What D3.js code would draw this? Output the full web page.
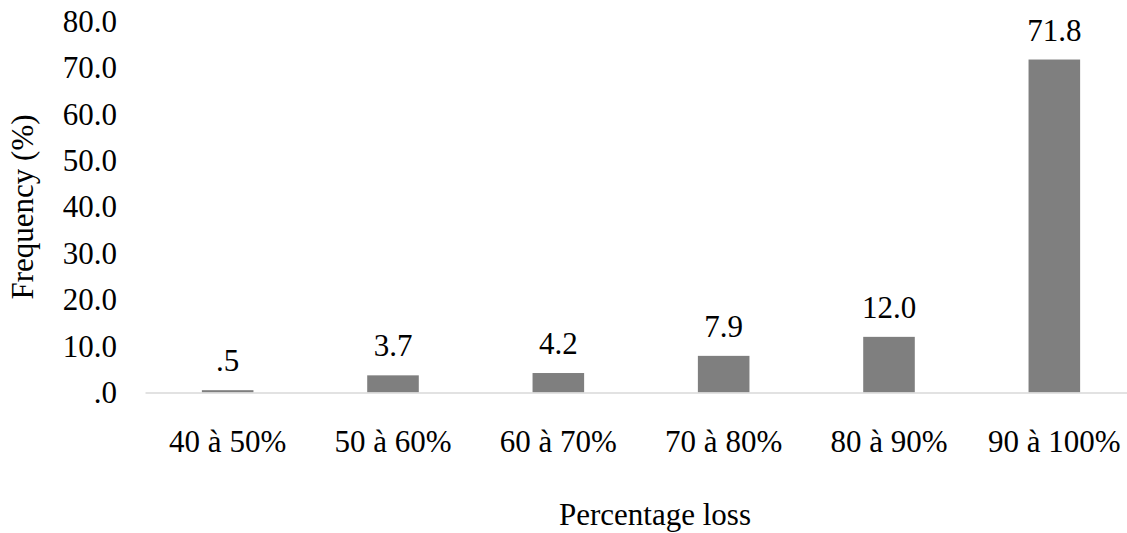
<!DOCTYPE html>
<html>
<head>
<meta charset="utf-8">
<script src="https://cdn.jsdelivr.net/npm/d3@7"></script>
<style>
  html, body { margin: 0; padding: 0; background: #ffffff; }
  svg { display: block; }
</style>
</head>
<body>
<svg id="chart" width="1127" height="533"></svg>
<script>
// Loss classes and their frequencies (%)
const categories = ["40 à 50%", "50 à 60%", "60 à 70%", "70 à 80%", "80 à 90%", "90 à 100%"];
const frequencies = [0.5, 3.7, 4.2, 7.9, 12.0, 71.8];
const yTicks = [0, 10, 20, 30, 40, 50, 60, 70, 80];
const yTitle = "Frequency (%)";
const xTitle = "Percentage loss";

const FONT = "Liberation Serif";
const SIZE = 31;

const svg = d3.select("#chart")
  .attr("font-family", FONT)
  .attr("font-size", SIZE);

const plot = { left: 145, right: 1137, top: 21.5, bottom: 392.5 };

const x = d3.scaleBand()
  .domain(categories)
  .range([plot.left, plot.right])
  .paddingInner(0.688)
  .paddingOuter(0.344);

const y = d3.scaleLinear()
  .domain([0, 80])
  .range([plot.bottom, plot.top]);

// One decimal, leading zero dropped (".5", ".0")
const fmt = v => d3.format(".1f")(v).replace(/^0\./, ".");

// Y axis: labels only, no line or ticks
const yAxis = svg.append("g")
  .attr("transform", `translate(${plot.left},0)`)
  .call(d3.axisLeft(y).tickValues(yTicks).tickFormat(fmt).tickSize(0).tickPadding(28))
  .attr("font-family", FONT)
  .attr("font-size", SIZE);
yAxis.select(".domain").remove();
yAxis.selectAll("text").attr("fill", "#000");

// Bars
svg.append("g")
  .selectAll("rect")
  .data(frequencies)
  .join("rect")
  .attr("x", (d, i) => x(categories[i]))
  .attr("y", d => y(d))
  .attr("width", x.bandwidth())
  .attr("height", d => y(0) - y(d))
  .attr("fill", "#7f7f7f");

// X axis: light baseline with category labels
const xAxis = svg.append("g")
  .attr("transform", `translate(0,${plot.bottom})`)
  .call(d3.axisBottom(x).tickSize(0).tickPadding(37).tickSizeOuter(0))
  .attr("font-family", FONT)
  .attr("font-size", SIZE);
xAxis.select(".domain").attr("stroke", "#d9d9d9").attr("stroke-width", 1.5);
xAxis.selectAll("text").attr("fill", "#000");

// Value labels above bars
svg.append("g")
  .selectAll("text")
  .data(frequencies)
  .join("text")
  .attr("x", (d, i) => x(categories[i]) + x.bandwidth() / 2)
  .attr("y", d => y(d) - 19)
  .attr("text-anchor", "middle")
  .attr("fill", "#000")
  .text(d => fmt(d));

// Axis titles
svg.append("text")
  .attr("transform", `translate(33,${(plot.top + plot.bottom) / 2}) rotate(-90)`)
  .attr("text-anchor", "middle")
  .attr("fill", "#000")
  .text(yTitle);

svg.append("text")
  .attr("x", 655)
  .attr("y", 525)
  .attr("text-anchor", "middle")
  .attr("fill", "#000")
  .text(xTitle);
</script>
</body>
</html>
